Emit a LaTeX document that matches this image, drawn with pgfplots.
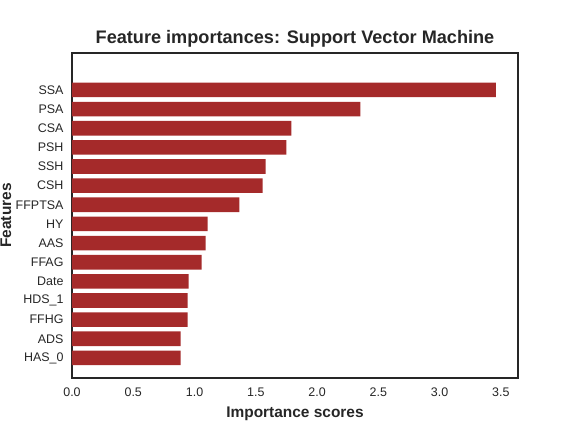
\documentclass[border=0pt]{standalone}
\usepackage{pgfplots}
\pgfplotsset{compat=1.18}
\usepackage{fontspec}
\setmainfont{Liberation Sans}
\definecolor{barred}{HTML}{A52A2A}
\definecolor{txt}{HTML}{262626}
\begin{document}
\begin{tikzpicture}
\begin{axis}[
    scale only axis,
    width=446bp, height=325bp,
    xbar, bar width=14.6bp,
    xmin=0, xmax=3.64, ymin=-1.05, ymax=15.93,
    ytick={0,...,14},
    yticklabels={HAS\_0,ADS,FFHG,HDS\_1,Date,FFAG,AAS,HY,FFPTSA,CSH,SSH,PSH,CSA,PSA,SSA},
    xtick={0,0.5,...,3.5},
    xticklabel style={yshift=-6bp, /pgf/number format/.cd, fixed, fixed zerofill, precision=1},
    yticklabel style={xshift=-5bp},
    /pgf/number format/assume math mode=true,
    major tick length=0pt,
    axis line style={txt, line width=1.1bp},
    tick label style={font=\fontsize{12.5}{14}\selectfont, text=txt},
    title={Feature importances: Support Vector Machine},
    title style={font=\bfseries\fontsize{18.2}{20}\selectfont, text=txt, yshift=-4bp},
    xlabel={Importance scores},
    xlabel style={yshift=-4bp},
    ylabel={Features},
    ylabel style={inner sep=0.5pt},
    ylabel shift=0.5bp,
    label style={font=\bfseries\fontsize{15.5}{18}\selectfont, text=txt},
]
\coordinate (sw) at (rel axis cs:0,0);
\coordinate (ne) at (rel axis cs:1,1);
\addplot[fill=barred, draw=none] coordinates {
    (0.886,0) (0.886,1) (0.943,2) (0.943,3) (0.951,4)
    (1.057,5) (1.090,6) (1.106,7) (1.367,8) (1.555,9)
    (1.580,10) (1.750,11) (1.790,12) (2.354,13) (3.460,14)
};
\end{axis}
\pgfresetboundingbox
\path ([shift={(-72bp,-54bp)}]sw) rectangle ([shift={(58bp,53bp)}]ne);
\end{tikzpicture}
\end{document}
